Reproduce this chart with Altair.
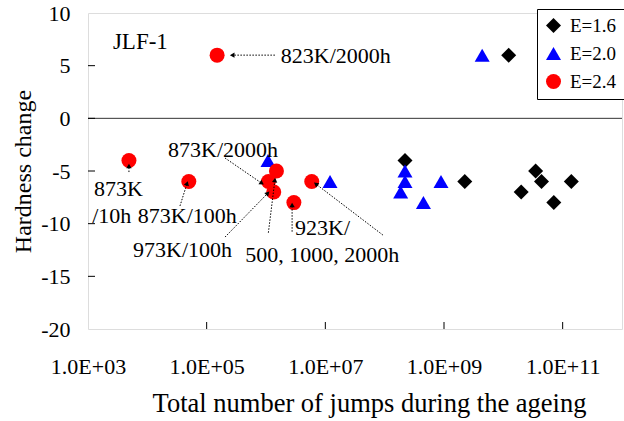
import math
import altair as alt
import pandas as pd

FONT = "Liberation Serif, DejaVu Serif, Noto Serif, serif"

# ---------------- data ----------------
series_labels = ["E=1.6", "E=2.0", "E=2.4"]
series_colors = ["#000000", "#0000FF", "#FF0000"]
series_shapes = ["diamond", "triangle-up", "circle"]

jumps_16 = [1.23e10, 2.2e8, 2.24e9, 3.5e10, 4.4e10, 2.0e10, 7.1e10, 1.4e11]
hard_16 = [6, -4, -6, -5, -6, -7, -8, -6]

jumps_20 = [4.4e9, 1.08e6, 1.2e7, 2.2e8, 2.2e8, 1.86e8, 4.5e8, 8.9e8]
hard_20 = [6, -4, -6, -5, -6, -7, -8, -6]

jumps_24 = [1.5e5, 4.9e3, 5.0e4, 1.1e6, 1.5e6, 1.35e6, 2.95e6, 5.9e6]
hard_24 = [6, -4, -6, -6, -5, -7, -8, -6]

x_tick_values = [1e3, 1e5, 1e7, 1e9, 1e11]
y_tick_values = [-20, -15, -10, -5, 0, 5, 10]
inner_x_ticks = [1e5, 1e7, 1e9, 1e11]
inner_y_ticks = [-15, -10, -5, 0, 5]

panel_label = ["JLF-1"]
panel_label_logx = [3.42]
panel_label_y = [6.58]

note_text = ["823K/2000h", "873K", "/10h", "873K/100h", "873K/2000h",
             "973K/100h", "923K/", "500, 1000, 2000h"]
note_logx = [6.25, 3.10, 3.07, 3.84, 4.35, 3.76, 6.49, 5.65]
note_y = [5.25, -7.37, -9.94, -9.94, -3.67, -13.17, -11.08, -13.64]

# arrows: tail -> head (log10 of jumps, hardness change)
arrow_logx1 = [6.15, 3.69, 4.55, 5.31, 5.31, 6.04, 6.44, 7.97]
arrow_y1 = [6.0, -5.10, -8.32, -3.77, -11.27, -10.86, -10.76, -11.08]
arrow_logx2 = [5.43, 3.69, 4.67, 5.93, 6.03, 6.15, 6.44, 6.84]
arrow_y2 = [6.0, -4.53, -6.17, -6.17, -7.11, -5.86, -8.23, -6.23]

# ---------------- layout ----------------
W, H = 534, 316
XMIN, XMAX = 1e3, 1e12
YMIN, YMAX = -20, 10
PX_DEC = W / (math.log10(XMAX) - math.log10(XMIN))
PX_UNIT = H / (YMAX - YMIN)

# ---------------- tables ----------------
pts = pd.DataFrame({
    "x": jumps_16 + jumps_20 + jumps_24,
    "y": hard_16 + hard_20 + hard_24,
    "series": [series_labels[0]] * len(jumps_16)
    + [series_labels[1]] * len(jumps_20)
    + [series_labels[2]] * len(jumps_24),
})

arrows = pd.DataFrame({
    "x": [10 ** v for v in arrow_logx1],
    "y": arrow_y1,
    "x2": [10 ** v for v in arrow_logx2],
    "y2": arrow_y2,
})


def head_angle(lx1, y1, lx2, y2):
    dx = (lx2 - lx1) * PX_DEC
    dy = -(y2 - y1) * PX_UNIT
    a = math.degrees(math.atan2(dx, -dy))
    return a % 360


heads = pd.DataFrame({
    "x": [10 ** v for v in arrow_logx2],
    "y": arrow_y2,
    "ang": [head_angle(a, b, c, d) for a, b, c, d in
            zip(arrow_logx1, arrow_y1, arrow_logx2, arrow_y2)],
})

notes = pd.DataFrame({"x": [10 ** v for v in note_logx], "y": note_y, "t": note_text})
panel = pd.DataFrame({"x": [10 ** v for v in panel_label_logx], "y": panel_label_y, "t": panel_label})

xt = pd.DataFrame({"x": inner_x_ticks})
yt = pd.DataFrame({"y": inner_y_ticks})
zero = pd.DataFrame({"y": [0]})

# ---------------- scales & axes ----------------
XS = alt.Scale(type="log", domain=[XMIN, XMAX], nice=False)
YS = alt.Scale(domain=[YMIN, YMAX], nice=False, zero=False)

XA = alt.Axis(
    values=x_tick_values,
    labelExpr="'1.0E+' + (datum.value < 1e10 ? '0' : '') + round(log(datum.value) / LN10)",
    grid=False, ticks=False, tickSize=0, domain=False,
    labelPadding=44, labelBaseline="alphabetic", labelFlush=False, labelOverlap=False,
    labelFont=FONT, labelFontSize=22, labelColor="black",
    title="Total number of jumps during the ageing",
    titleFont=FONT, titleFontSize=26.5, titleFontWeight="normal", titleColor="black",
    titleX=281, titleY=82, titleBaseline="alphabetic", titleAlign="center",
)
YA = alt.Axis(
    values=y_tick_values,
    labelExpr="'' + datum.value",
    grid=False, ticks=False, tickSize=0, domain=False,
    labelPadding=18, labelFont=FONT, labelFontSize=22, labelColor="black",
    labelOverlap=False,
    title="Hardness change",
    titleFont=FONT, titleFontSize=24, titleFontWeight="normal", titleColor="black",
    titleAngle=270, titleX=-58, titleY=158, titleBaseline="alphabetic", titleAlign="center",
)

LEG = alt.Legend(
    title=None, orient="none", legendX=449, legendY=-4,
    strokeColor="black", fillColor="white", padding=7,
    labelFont=FONT, labelFontSize=19, labelColor="black", labelOffset=7,
    symbolSize=130, symbolStrokeWidth=0, rowPadding=8, zindex=1,
)


def X(field="x"):
    return alt.X(f"{field}:Q", scale=XS, axis=XA)


def Y(field="y"):
    return alt.Y(f"{field}:Q", scale=YS, axis=YA)


zero_line = alt.Chart(zero).mark_rule(color="#333333", strokeWidth=1).encode(y=Y())

x_ticks = alt.Chart(xt).mark_rule(color="black", strokeWidth=1).encode(
    x=X(), y=alt.value(H), y2=alt.value(H - 7)
)
y_ticks = alt.Chart(yt).mark_rule(color="black", strokeWidth=1).encode(
    y=Y(), x=alt.value(0), x2=alt.value(7)
)

points = alt.Chart(pts).mark_point(filled=True, opacity=1, strokeWidth=0).encode(
    x=X(), y=Y(),
    color=alt.Color("series:N", scale=alt.Scale(domain=series_labels, range=series_colors), legend=LEG),
    shape=alt.Shape("series:N", scale=alt.Scale(domain=series_labels, range=series_shapes), legend=LEG),
    size=alt.Size("series:N", scale=alt.Scale(domain=series_labels, range=[225, 225, 160]), legend=None),
)

arrow_lines = alt.Chart(arrows).mark_rule(color="black", strokeWidth=1, strokeDash=[1.5, 1.5]).encode(
    x=X(), x2="x2:Q", y=Y(), y2="y2:Q"
)
arrow_heads = alt.Chart(heads).mark_point(
    shape="triangle-up", filled=True, size=28, color="black", opacity=1, strokeWidth=0
).encode(x=X(), y=Y(), angle=alt.Angle("ang:Q", scale=None))

note_layer = alt.Chart(notes).mark_text(
    align="left", baseline="alphabetic", font=FONT, fontSize=22, color="black"
).encode(x=X(), y=Y(), text="t:N")

panel_layer = alt.Chart(panel).mark_text(
    align="left", baseline="alphabetic", font=FONT, fontSize=23, color="black"
).encode(x=X(), y=Y(), text="t:N")

chart = alt.layer(
    zero_line, x_ticks, y_ticks, points, arrow_lines, arrow_heads, note_layer, panel_layer
).properties(
    width=W, height=H,
    padding={"left": 88, "top": 13, "right": 2, "bottom": 92},
    autosize=alt.AutoSizeParams(type="none"),
    background="white",
).configure_view(
    stroke="black", strokeWidth=1
).configure(font=FONT)

chart.save("out.html", embed_options={"renderer": "svg", "actions": False})
